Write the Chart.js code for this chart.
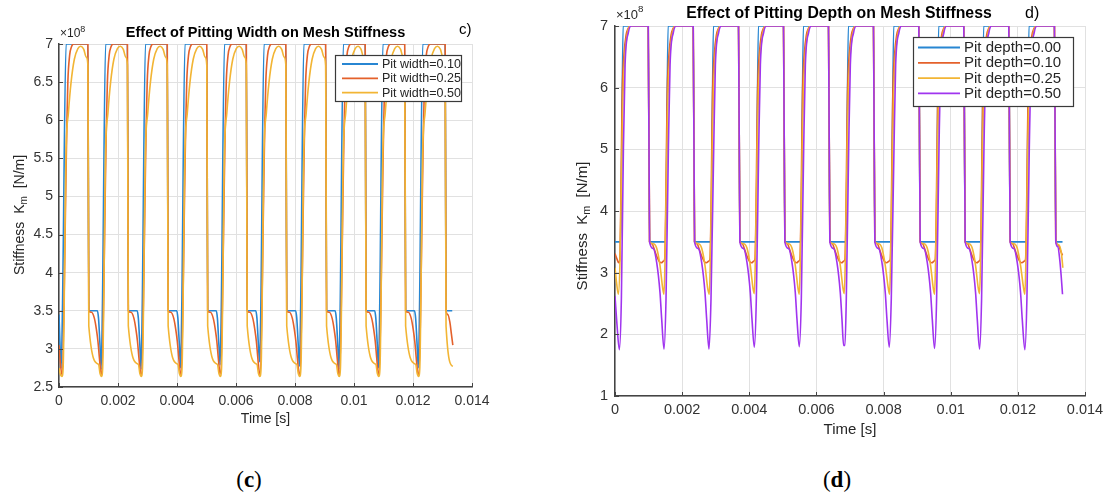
<!DOCTYPE html>
<html>
<head>
<meta charset="utf-8">
<script src="https://cdn.jsdelivr.net/npm/chart.js@4/dist/chart.umd.min.js"></script>
<style>
  html, body { margin: 0; padding: 0; background: #fff; width: 1104px; height: 493px; overflow: hidden; }
  #wrapL { position: absolute; left: 0; top: 0; }
  #wrapR { position: absolute; left: 560px; top: 0; }
  .cap { position: absolute; top: 466px; width: 100px; text-align: center; line-height: 28px;
         font-family: "Liberation Serif", "DejaVu Serif", serif; font-size: 23px; color: #000; }
  .cap b { font-weight: bold; }
</style>
</head>
<body>
<div id="wrapL"><canvas id="cL" width="560" height="440"></canvas></div>
<div id="wrapR"><canvas id="cR" width="544" height="445"></canvas></div>
<div class="cap" style="left:199px">(<b>c</b>)</div>
<div class="cap" style="left:787px">(<b>d</b>)</div>
<script>
// Axis ticks
const timeTicks = [0, 0.002, 0.004, 0.006, 0.008, 0.01, 0.012, 0.014];
const widthTicks = [2.5, 3, 3.5, 4, 4.5, 5, 5.5, 6, 6.5, 7];
const depthTicks = [1, 2, 3, 4, 5, 6, 7];

// Series names and colours
const widthLabels = ['Pit width=0.10', 'Pit width=0.25', 'Pit width=0.50'];
const depthLabels = ['Pit depth=0.00', 'Pit depth=0.10', 'Pit depth=0.25', 'Pit depth=0.50'];
const lineColors = ['#2786d2', '#e4612b', '#f2b534', '#a034ef'];

// Mesh stiffness samples: [time in ms, stiffness in 1e8 N/m]
const width010 = [
  [0,3.45],[0.03,3.1],[0.075,2.75],[0.12,3.6],[0.24,7],
  [0.98,7],[1.01,3.5],[1.30,3.5],[1.34,3.4],[1.39,3.05],[1.43,2.73],[1.47,3.5],[1.58,7],
  [2.32,7],[2.35,3.5],[2.65,3.5],[2.69,3.4],[2.74,3.05],[2.78,2.73],[2.82,3.5],[2.93,7],
  [3.67,7],[3.70,3.5],[3.99,3.5],[4.03,3.4],[4.08,3.05],[4.12,2.75],[4.16,3.5],[4.27,7],
  [5.01,7],[5.04,3.5],[5.33,3.5],[5.37,3.4],[5.42,3.05],[5.46,2.79],[5.50,3.5],[5.61,7],
  [6.35,7],[6.38,3.5],[6.67,3.5],[6.71,3.4],[6.76,3.05],[6.80,2.83],[6.84,3.5],[6.95,7],
  [7.69,7],[7.72,3.5],[8.02,3.5],[8.06,3.4],[8.11,3.05],[8.15,2.77],[8.19,3.5],[8.30,7],
  [9.04,7],[9.07,3.5],[9.36,3.5],[9.40,3.4],[9.45,3.05],[9.49,2.73],[9.53,3.5],[9.64,7],
  [10.38,7],[10.41,3.5],[10.70,3.5],[10.74,3.4],[10.79,3.05],[10.83,2.75],[10.87,3.5],[10.98,7],
  [11.72,7],[11.75,3.5],[12.05,3.5],[12.09,3.4],[12.14,3.05],[12.18,2.75],[12.22,3.5],[12.33,7],
  [13.09,7],[13.12,3.5],[13.33,3.5]
];
const width025 = [
  [0,3.05],[0.05,2.8],[0.1,2.66],[0.27,6.0],[0.30,6.5],[0.36,6.85],[0.43,6.97],[0.50,7],
  [0.98,7],[1.01,3.5],[1.10,3.48],[1.20,3.4],[1.27,3.25],[1.32,3.1],[1.37,2.88],[1.41,2.72],[1.44,2.66],[1.61,6.0],[1.64,6.5],[1.70,6.85],[1.77,6.97],[1.84,7],
  [2.32,7],[2.35,3.5],[2.44,3.48],[2.54,3.4],[2.61,3.25],[2.66,3.1],[2.71,2.88],[2.75,2.72],[2.79,2.65],[2.96,6.0],[2.99,6.5],[3.05,6.85],[3.12,6.97],[3.19,7],
  [3.67,7],[3.70,3.5],[3.79,3.48],[3.89,3.4],[3.96,3.25],[4.01,3.1],[4.06,2.88],[4.10,2.72],[4.13,2.66],[4.30,6.0],[4.33,6.5],[4.39,6.85],[4.46,6.97],[4.53,7],
  [5.01,7],[5.04,3.5],[5.13,3.48],[5.23,3.4],[5.30,3.25],[5.35,3.1],[5.40,2.88],[5.44,2.72],[5.47,2.67],[5.64,6.0],[5.67,6.5],[5.73,6.85],[5.80,6.97],[5.87,7],
  [6.35,7],[6.38,3.5],[6.47,3.48],[6.57,3.4],[6.64,3.25],[6.69,3.1],[6.74,2.88],[6.78,2.72],[6.81,2.66],[6.98,6.0],[7.01,6.5],[7.07,6.85],[7.14,6.97],[7.21,7],
  [7.69,7],[7.72,3.5],[7.81,3.48],[7.91,3.4],[7.98,3.25],[8.03,3.1],[8.08,2.88],[8.12,2.72],[8.16,2.66],[8.33,6.0],[8.36,6.5],[8.42,6.85],[8.49,6.97],[8.56,7],
  [9.04,7],[9.07,3.5],[9.16,3.48],[9.26,3.4],[9.33,3.25],[9.38,3.1],[9.43,2.88],[9.47,2.72],[9.50,2.65],[9.67,6.0],[9.70,6.5],[9.76,6.85],[9.83,6.97],[9.90,7],
  [10.38,7],[10.41,3.5],[10.50,3.48],[10.60,3.4],[10.67,3.25],[10.72,3.1],[10.77,2.88],[10.81,2.72],[10.84,2.66],[11.01,6.0],[11.04,6.5],[11.10,6.85],[11.17,6.97],[11.24,7],
  [11.72,7],[11.75,3.5],[11.84,3.48],[11.94,3.4],[12.01,3.25],[12.06,3.1],[12.11,2.88],[12.15,2.72],[12.19,2.66],[12.36,6.0],[12.39,6.5],[12.45,6.85],[12.52,6.97],[12.59,7],
  [13.09,7],[13.12,3.5],[13.18,3.45],[13.25,3.35],[13.30,3.2],[13.35,3.05]
];
const width050 = [
  [0,2.75],[0.05,2.66],[0.1,2.64],[0.14,2.75],[0.24,5.6],[0.32,6.1],[0.41,6.5],[0.52,6.8],[0.64,6.94],[0.74,6.97],[0.84,6.93],[0.92,6.83],[0.98,6.72],[1.01,3.3],
  [1.34,2.8],[1.39,2.68],[1.44,2.64],[1.48,2.75],[1.58,5.6],[1.66,6.1],[1.75,6.5],[1.86,6.8],[1.98,6.94],[2.08,6.97],[2.18,6.93],[2.26,6.83],[2.32,6.72],[2.35,3.3],
  [2.69,2.8],[2.74,2.68],[2.79,2.64],[2.83,2.75],[2.93,5.6],[3.01,6.1],[3.10,6.5],[3.21,6.8],[3.33,6.94],[3.43,6.97],[3.53,6.93],[3.61,6.83],[3.67,6.72],[3.70,3.3],
  [4.03,2.8],[4.08,2.68],[4.13,2.64],[4.17,2.75],[4.27,5.6],[4.35,6.1],[4.44,6.5],[4.55,6.8],[4.67,6.94],[4.77,6.97],[4.87,6.93],[4.95,6.83],[5.01,6.72],[5.04,3.3],
  [5.37,2.8],[5.42,2.68],[5.47,2.64],[5.51,2.75],[5.61,5.6],[5.69,6.1],[5.78,6.5],[5.89,6.8],[6.01,6.94],[6.11,6.97],[6.21,6.93],[6.29,6.83],[6.35,6.72],[6.38,3.3],
  [6.71,2.8],[6.76,2.68],[6.81,2.64],[6.85,2.75],[6.95,5.6],[7.03,6.1],[7.12,6.5],[7.23,6.8],[7.35,6.94],[7.45,6.97],[7.55,6.93],[7.63,6.83],[7.69,6.72],[7.72,3.3],
  [8.06,2.8],[8.11,2.68],[8.16,2.64],[8.20,2.75],[8.30,5.6],[8.38,6.1],[8.47,6.5],[8.58,6.8],[8.70,6.94],[8.80,6.97],[8.90,6.93],[8.98,6.83],[9.04,6.72],[9.07,3.3],
  [9.40,2.8],[9.45,2.68],[9.50,2.64],[9.54,2.75],[9.64,5.6],[9.72,6.1],[9.81,6.5],[9.92,6.8],[10.04,6.94],[10.14,6.97],[10.24,6.93],[10.32,6.83],[10.38,6.72],[10.41,3.3],
  [10.74,2.8],[10.79,2.68],[10.84,2.64],[10.88,2.75],[10.98,5.6],[11.06,6.1],[11.15,6.5],[11.26,6.8],[11.38,6.94],[11.48,6.97],[11.58,6.93],[11.66,6.83],[11.72,6.72],[11.75,3.3],
  [12.09,2.8],[12.14,2.68],[12.19,2.64],[12.23,2.75],[12.33,5.6],[12.41,6.1],[12.50,6.5],[12.61,6.8],[12.73,6.94],[12.83,6.97],[12.93,6.93],[13.01,6.83],[13.09,6.72],[13.12,3.3],[13.35,2.77]
];

const depth000 = [
  [0,3.5],[0.17,3.5],[0.24,7],
  [0.99,7],[1.03,3.5],[1.51,3.5],[1.58,7],
  [2.33,7],[2.37,3.5],[2.86,3.5],[2.93,7],
  [3.68,7],[3.72,3.5],[4.20,3.5],[4.27,7],
  [5.02,7],[5.06,3.5],[5.54,3.5],[5.61,7],
  [6.36,7],[6.40,3.5],[6.88,3.5],[6.95,7],
  [7.70,7],[7.74,3.5],[8.23,3.5],[8.30,7],
  [9.05,7],[9.09,3.5],[9.57,3.5],[9.64,7],
  [10.39,7],[10.43,3.5],[10.91,3.5],[10.98,7],
  [11.73,7],[11.77,3.5],[12.26,3.5],[12.33,7],
  [13.09,7],[13.13,3.5],[13.33,3.5]
];
const depth010 = [
  [0,3.31],[0.06,3.22],[0.11,3.16],[0.14,3.2],[0.22,6.0],[0.27,6.55],[0.33,6.85],[0.39,6.96],[0.45,7],
  [0.99,7],[1.03,3.5],[1.10,3.47],[1.17,3.38],[1.24,3.27],[1.31,3.19],[1.38,3.16],[1.45,3.19],[1.48,3.22],[1.56,6.0],[1.61,6.55],[1.67,6.85],[1.73,6.96],[1.79,7],
  [2.33,7],[2.37,3.5],[2.44,3.47],[2.51,3.38],[2.58,3.27],[2.65,3.19],[2.72,3.16],[2.80,3.19],[2.83,3.22],[2.91,6.0],[2.96,6.55],[3.02,6.85],[3.08,6.96],[3.14,7],
  [3.68,7],[3.72,3.5],[3.79,3.47],[3.86,3.38],[3.93,3.27],[4.00,3.19],[4.07,3.16],[4.14,3.19],[4.17,3.22],[4.25,6.0],[4.30,6.55],[4.36,6.85],[4.42,6.96],[4.48,7],
  [5.02,7],[5.06,3.5],[5.13,3.47],[5.20,3.38],[5.27,3.27],[5.34,3.19],[5.41,3.16],[5.48,3.19],[5.51,3.22],[5.59,6.0],[5.64,6.55],[5.70,6.85],[5.76,6.96],[5.82,7],
  [6.36,7],[6.40,3.5],[6.47,3.47],[6.54,3.38],[6.61,3.27],[6.68,3.19],[6.75,3.16],[6.82,3.19],[6.85,3.22],[6.93,6.0],[6.98,6.55],[7.04,6.85],[7.10,6.96],[7.16,7],
  [7.70,7],[7.74,3.5],[7.81,3.47],[7.88,3.38],[7.95,3.27],[8.02,3.19],[8.09,3.16],[8.17,3.19],[8.20,3.22],[8.28,6.0],[8.33,6.55],[8.39,6.85],[8.45,6.96],[8.51,7],
  [9.05,7],[9.09,3.5],[9.16,3.47],[9.23,3.38],[9.30,3.27],[9.37,3.19],[9.44,3.16],[9.51,3.19],[9.54,3.22],[9.62,6.0],[9.67,6.55],[9.73,6.85],[9.79,6.96],[9.85,7],
  [10.39,7],[10.43,3.5],[10.50,3.47],[10.57,3.38],[10.64,3.27],[10.71,3.19],[10.78,3.16],[10.85,3.19],[10.88,3.22],[10.96,6.0],[11.01,6.55],[11.07,6.85],[11.13,6.96],[11.19,7],
  [11.73,7],[11.77,3.5],[11.84,3.47],[11.91,3.38],[11.98,3.27],[12.05,3.19],[12.12,3.16],[12.20,3.19],[12.23,3.22],[12.31,6.0],[12.36,6.55],[12.42,6.85],[12.48,6.96],[12.54,7],
  [13.09,7],[13.13,3.5],[13.20,3.45],[13.27,3.36],[13.33,3.28]
];
const depth025 = [
  [0,3.08],[0.05,2.82],[0.1,2.65],[0.15,3.2],[0.2,4.8],[0.24,5.9],[0.29,6.5],[0.36,6.85],[0.45,7],
  [0.99,7],[1.03,3.5],[1.14,3.47],[1.24,3.4],[1.34,3.12],[1.42,2.75],[1.46,2.65],[1.49,3.2],[1.54,4.8],[1.58,5.9],[1.63,6.5],[1.70,6.85],[1.79,7],
  [2.33,7],[2.37,3.5],[2.48,3.47],[2.58,3.4],[2.68,3.12],[2.76,2.75],[2.81,2.65],[2.84,3.2],[2.89,4.8],[2.93,5.9],[2.98,6.5],[3.05,6.85],[3.14,7],
  [3.68,7],[3.72,3.5],[3.83,3.47],[3.93,3.4],[4.03,3.12],[4.11,2.75],[4.15,2.66],[4.18,3.2],[4.23,4.8],[4.27,5.9],[4.32,6.5],[4.39,6.85],[4.48,7],
  [5.02,7],[5.06,3.5],[5.17,3.47],[5.27,3.4],[5.37,3.12],[5.45,2.75],[5.49,2.65],[5.52,3.2],[5.57,4.8],[5.61,5.9],[5.66,6.5],[5.73,6.85],[5.82,7],
  [6.36,7],[6.40,3.5],[6.51,3.47],[6.61,3.4],[6.71,3.12],[6.79,2.75],[6.83,2.66],[6.86,3.2],[6.91,4.8],[6.95,5.9],[7.00,6.5],[7.07,6.85],[7.16,7],
  [7.70,7],[7.74,3.5],[7.85,3.47],[7.95,3.4],[8.05,3.12],[8.14,2.75],[8.18,2.65],[8.21,3.2],[8.26,4.8],[8.30,5.9],[8.35,6.5],[8.42,6.85],[8.51,7],
  [9.05,7],[9.09,3.5],[9.20,3.47],[9.30,3.4],[9.40,3.12],[9.48,2.75],[9.52,2.65],[9.55,3.2],[9.60,4.8],[9.64,5.9],[9.69,6.5],[9.76,6.85],[9.85,7],
  [10.39,7],[10.43,3.5],[10.54,3.47],[10.64,3.4],[10.74,3.12],[10.82,2.75],[10.86,2.66],[10.89,3.2],[10.94,4.8],[10.98,5.9],[11.03,6.5],[11.10,6.85],[11.19,7],
  [11.73,7],[11.77,3.5],[11.88,3.47],[11.98,3.4],[12.08,3.12],[12.17,2.75],[12.21,2.65],[12.24,3.2],[12.29,4.8],[12.33,5.9],[12.38,6.5],[12.45,6.85],[12.54,7],
  [13.09,7],[13.13,3.5],[13.22,3.45],[13.30,3.3],[13.34,3.08]
];
const depth050 = [
  [0,2.62],[0.06,2.15],[0.13,1.75],[0.19,2.58],[0.25,5.0],[0.30,6.37],[0.40,6.9],[0.48,7],
  [0.99,7],[1.03,3.5],[1.14,3.39],[1.24,3.17],[1.34,2.68],[1.39,2.25],[1.46,1.76],[1.52,2.58],[1.59,5.0],[1.64,6.37],[1.74,6.9],[1.82,7],
  [2.33,7],[2.37,3.5],[2.48,3.39],[2.58,3.17],[2.68,2.68],[2.73,2.25],[2.80,1.76],[2.86,2.58],[2.94,5.0],[2.99,6.37],[3.09,6.9],[3.17,7],
  [3.68,7],[3.72,3.5],[3.83,3.39],[3.93,3.17],[4.03,2.68],[4.08,2.25],[4.15,1.79],[4.21,2.58],[4.28,5.0],[4.33,6.37],[4.43,6.9],[4.51,7],
  [5.02,7],[5.06,3.5],[5.17,3.39],[5.27,3.17],[5.37,2.68],[5.42,2.25],[5.49,1.80],[5.55,2.58],[5.62,5.0],[5.67,6.37],[5.77,6.9],[5.85,7],
  [6.36,7],[6.40,3.5],[6.51,3.39],[6.61,3.17],[6.71,2.68],[6.76,2.25],[6.81,1.82],[6.85,1.82],[6.89,2.58],[6.96,5.0],[7.01,6.37],[7.11,6.9],[7.19,7],
  [7.70,7],[7.74,3.5],[7.85,3.39],[7.95,3.17],[8.05,2.68],[8.10,2.25],[8.17,1.79],[8.23,2.58],[8.31,5.0],[8.36,6.37],[8.46,6.9],[8.54,7],
  [9.05,7],[9.09,3.5],[9.20,3.39],[9.30,3.17],[9.40,2.68],[9.45,2.25],[9.52,1.77],[9.58,2.58],[9.65,5.0],[9.70,6.37],[9.80,6.9],[9.88,7],
  [10.39,7],[10.43,3.5],[10.54,3.39],[10.64,3.17],[10.74,2.68],[10.79,2.25],[10.86,1.76],[10.92,2.58],[10.99,5.0],[11.04,6.37],[11.14,6.9],[11.22,7],
  [11.73,7],[11.77,3.5],[11.88,3.39],[11.98,3.17],[12.08,2.68],[12.13,2.25],[12.21,1.75],[12.27,2.58],[12.34,5.0],[12.39,6.37],[12.49,6.9],[12.57,7],
  [13.09,7],[13.13,3.5],[13.19,3.42],[13.25,3.2],[13.29,2.95],[13.33,2.65]
];

const FONT = '"Liberation Sans", Arial, Helvetica, sans-serif';
const INK = '#262626';

// Draws a run of text pieces (used for sub/superscripts), optionally rotated.
function drawRich(ctx, parts, x, y, rot, align) {
  ctx.save();
  ctx.translate(x, y);
  ctx.rotate(rot);
  ctx.textBaseline = 'middle';
  ctx.textAlign = 'left';
  let w = 0;
  parts.forEach(p => { ctx.font = p.size + 'px ' + FONT; w += ctx.measureText(p.t).width; });
  let cx = align === 'center' ? -w / 2 : 0;
  parts.forEach(p => {
    ctx.font = p.size + 'px ' + FONT;
    ctx.fillStyle = INK;
    ctx.fillText(p.t, cx, p.dy || 0);
    cx += ctx.measureText(p.t).width;
  });
  ctx.restore();
}

// Inward tick marks, titles, axis labels and boxed legend
const decor = {
  id: 'decor',
  afterDraw(chart, args, o) {
    const { ctx, chartArea: a, scales: { x, y } } = chart;
    ctx.save();
    ctx.strokeStyle = '#444';
    ctx.lineWidth = 1;
    x.ticks.forEach(t => {
      const px = Math.round(x.getPixelForValue(t.value)) + 0.5;
      ctx.beginPath(); ctx.moveTo(px, a.bottom); ctx.lineTo(px, a.bottom - 4); ctx.stroke();
    });
    y.ticks.forEach(t => {
      const py = Math.round(y.getPixelForValue(t.value)) + 0.5;
      ctx.beginPath(); ctx.moveTo(a.left, py); ctx.lineTo(a.left + 4, py); ctx.stroke();
    });

    // title and panel tag
    ctx.fillStyle = '#000';
    ctx.textBaseline = 'middle';
    ctx.textAlign = 'center';
    ctx.font = 'bold ' + o.titleSize + 'px ' + FONT;
    ctx.fillText(o.title, o.titleX, o.titleY);
    ctx.textAlign = 'left';
    ctx.font = o.tagSize + 'px ' + FONT;
    ctx.fillText(o.tag, o.tagX, o.tagY);

    // exponent label
    drawRich(ctx, [{ t: '\u00d710', size: o.expSize }, { t: '8', size: o.expSize * 0.75, dy: -o.expSize * 0.4 }],
      a.left + 1, o.expY, 0, 'left');

    // axis titles
    const fs = o.axisSize;
    drawRich(ctx, [{ t: 'Time [s]', size: fs }], (a.left + a.right) / 2, a.bottom + o.xTitleDy, 0, 'center');
    drawRich(ctx, [
      { t: 'Stiffness  K', size: fs },
      { t: 'm', size: fs * 0.72, dy: fs * 0.3 },
      { t: '  [N/m]', size: fs }
    ], o.yTitleX, o.yTitleY, -Math.PI / 2, 'center');

    // legend
    const L = o.legend;
    const sets = chart.data.datasets;
    ctx.fillStyle = '#fff';
    ctx.fillRect(L.x, L.y, L.w, L.h);
    ctx.strokeStyle = '#3a3a3a';
    ctx.lineWidth = 1.2;
    ctx.strokeRect(L.x + 0.5, L.y + 0.5, L.w, L.h);
    sets.forEach((ds, i) => {
      const ry = L.y + L.first + i * L.step;
      ctx.strokeStyle = ds.borderColor;
      ctx.lineWidth = 1.8;
      ctx.beginPath(); ctx.moveTo(L.x + L.l0, ry); ctx.lineTo(L.x + L.l1, ry); ctx.stroke();
      ctx.fillStyle = INK;
      ctx.font = L.size + 'px ' + FONT;
      ctx.textAlign = 'left';
      ctx.textBaseline = 'middle';
      ctx.fillText(ds.label, L.x + L.tx, ry + 0.5);
    });
    ctx.restore();
  }
};

function buildChart(id, series, labels, yTicks, geo) {
  const datasets = series.map((pts, i) => ({
    label: labels[i],
    data: pts.map(([t, k]) => ({ x: t / 1000, y: k })),
    borderColor: lineColors[i],
    borderWidth: 1.6,
    pointRadius: 0,
    pointHitRadius: 0,
    fill: false,
    cubicInterpolationMode: 'monotone',
    order: series.length - i
  }));
  return new Chart(document.getElementById(id), {
    type: 'line',
    data: { datasets },
    options: {
      responsive: false,
      animation: false,
      events: [],
      layout: { padding: geo.pad },
      plugins: { legend: { display: false }, tooltip: { enabled: false }, decor: geo },
      scales: {
        x: {
          type: 'linear', min: timeTicks[0], max: timeTicks[timeTicks.length - 1],
          afterBuildTicks: s => { s.ticks = timeTicks.map(v => ({ value: v })); },
          afterFit: s => { s.height = geo.xh; s.paddingLeft = 0; s.paddingRight = 0; },
          ticks: { autoSkip: false, maxRotation: 0, padding: geo.xpad, color: '#333',
                   font: { size: geo.tick, family: FONT }, callback: v => String(v) },
          grid: { color: '#e1e1e1', lineWidth: 1, drawTicks: false },
          border: { display: true, color: '#444', width: 1.5 }
        },
        y: {
          type: 'linear', min: yTicks[0], max: yTicks[yTicks.length - 1],
          afterBuildTicks: s => { s.ticks = yTicks.map(v => ({ value: v })); },
          afterFit: s => { s.width = geo.yw; s.paddingTop = 0; s.paddingBottom = 0; },
          ticks: { autoSkip: false, padding: geo.ypad, color: '#333',
                   font: { size: geo.tick, family: FONT }, callback: v => String(v) },
          grid: { color: '#e1e1e1', lineWidth: 1, drawTicks: false },
          border: { display: true, color: '#444', width: 1.5 }
        }
      }
    },
    plugins: [decor]
  });
}

buildChart('cL', [width010, width025, width050], widthLabels, widthTicks, {
  pad: { left: 0, top: 44, right: 88, bottom: 0 }, xh: 53, yw: 59, xpad: 6, ypad: 6, tick: 14,
  title: 'Effect of Pitting Width on Mesh Stiffness', titleSize: 14.5, titleX: 265.5, titleY: 33,
  tag: 'c)', tagSize: 15, tagX: 459, tagY: 30,
  expSize: 12, expY: 34,
  axisSize: 14, xTitleDy: 32, yTitleX: 20, yTitleY: 215,
  legend: { x: 335, y: 55, w: 126, h: 46, first: 9, step: 14.3, l0: 7, l1: 43, tx: 47, size: 12.5 }
});

buildChart('cR', [depth000, depth010, depth025, depth050], depthLabels, depthTicks, {
  pad: { left: 0, top: 26, right: 19, bottom: 0 }, xh: 49, yw: 55, xpad: 5, ypad: 7, tick: 14.5,
  title: 'Effect of Pitting Depth on Mesh Stiffness', titleSize: 15.8, titleX: 279, titleY: 14,
  tag: 'd)', tagSize: 16, tagX: 465, tagY: 14,
  expSize: 13, expY: 15,
  axisSize: 15, xTitleDy: 34, yTitleX: 23, yTitleY: 226,
  legend: { x: 353, y: 37, w: 160, h: 69, first: 10.5, step: 15.3, l0: 5, l1: 47, tx: 51, size: 15 }
});
</script>
</body>
</html>
